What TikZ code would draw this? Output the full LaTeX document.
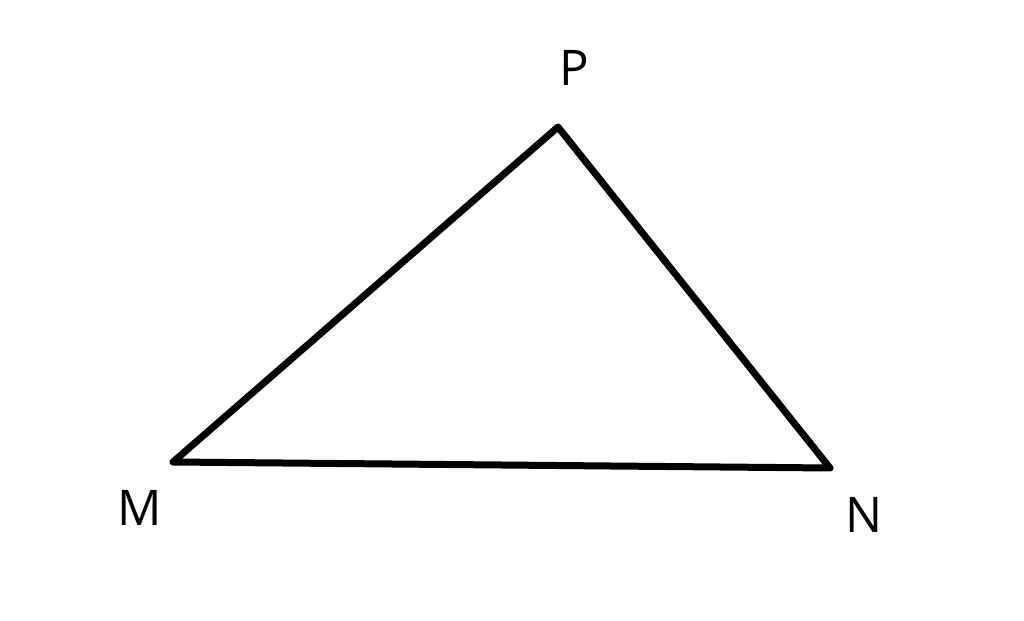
\documentclass[tikz,border=0pt]{standalone}
\usepackage{fontspec}
\setmainfont{Open Sans}
\begin{document}
\begin{tikzpicture}[x=0.02cm,y=-0.02cm,
  edge/.style={line width=0.14cm,line cap=round,line join=round},
  lbl/.style={font=\fontsize{28}{30}\selectfont,inner sep=0pt}]
\useasboundingbox (0,0) rectangle (1024,621);
\coordinate (P) at (558,127);
\coordinate (M) at (173,462);
\coordinate (N) at (830,468);
\draw[edge] (M) -- (P) -- (N) -- cycle;
\node[lbl] (lP) at (574,68) {P};
\node[lbl] (lM) at (140,508) {M};
\node[lbl] (lN) at (864,515) {N};
\end{tikzpicture}
\end{document}
